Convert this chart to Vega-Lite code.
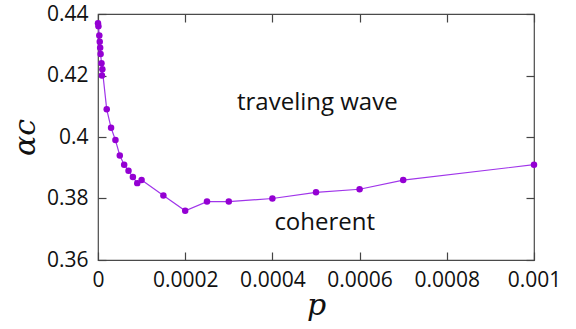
{
  "$schema": "https://vega.github.io/schema/vega-lite/v6.json",
  "width": 436,
  "height": 246,
  "padding": {"left": 98, "top": 14, "right": 42, "bottom": 69},
  "autosize": {"type": "none"},
  "background": "white",
  "config": {
    "view": {"stroke": "#4a4a4a", "strokeWidth": 1.2},
    "axis": {
      "domain": false,
      "tickColor": "#444",
      "tickWidth": 1.2,
      "tickSize": 8,
      "offset": -8,
      "grid": false,
      "labelFont": "Open Sans",
      "labelFontSize": 21,
      "labelColor": "#111",
      "labelFlush": false,
      "labelOverlap": false
    }
  },
  "datasets": {
    "curve": [
      {"p": 0, "a": 0.437},
      {"p": 0.000001, "a": 0.436},
      {"p": 0.000003, "a": 0.433},
      {"p": 0.000004, "a": 0.431},
      {"p": 0.000005, "a": 0.429},
      {"p": 0.000006, "a": 0.427},
      {"p": 0.000008, "a": 0.424},
      {"p": 0.00001, "a": 0.422},
      {"p": 0.000009, "a": 0.42},
      {"p": 0.00002, "a": 0.409},
      {"p": 0.00003, "a": 0.403},
      {"p": 0.00004, "a": 0.399},
      {"p": 0.00005, "a": 0.394},
      {"p": 0.00006, "a": 0.391},
      {"p": 0.00007, "a": 0.389},
      {"p": 0.00008, "a": 0.387},
      {"p": 0.00009, "a": 0.385},
      {"p": 0.0001, "a": 0.386},
      {"p": 0.00015, "a": 0.381},
      {"p": 0.0002, "a": 0.376},
      {"p": 0.00025, "a": 0.379},
      {"p": 0.0003, "a": 0.379},
      {"p": 0.0004, "a": 0.38},
      {"p": 0.0005, "a": 0.382},
      {"p": 0.0006, "a": 0.383},
      {"p": 0.0007, "a": 0.386},
      {"p": 0.001, "a": 0.391}
    ],
    "labels": [
      {"p": 0.000503, "a": 0.4111, "t": "traveling wave"},
      {"p": 0.00052, "a": 0.372, "t": "coherent"}
    ]
  },
  "layer": [
    {
      "data": {"name": "curve"},
      "mark": {"type": "line", "color": "#a035ea", "strokeWidth": 1.2},
      "encoding": {
        "x": {
          "field": "p", "type": "quantitative",
          "scale": {"domain": [0, 0.001], "nice": false, "zero": false},
          "axis": {
            "orient": "bottom",
            "values": [0, 0.0002, 0.0004, 0.0006, 0.0008, 0.001],
            "format": "~g",
            "labelPadding": 9,
            "title": "p",
            "titleFont": "DejaVu Serif",
            "titleFontStyle": "italic",
            "titleFontWeight": "normal",
            "titleFontSize": 30,
            "titlePadding": 0,
            "titleColor": "#111"
          }
        },
        "y": {
          "field": "a", "type": "quantitative",
          "scale": {"domain": [0.36, 0.44], "nice": false, "zero": false},
          "axis": {
            "orient": "left",
            "values": [0.36, 0.38, 0.4, 0.42, 0.44],
            "format": "~g",
            "labelPadding": 10,
            "title": "αc",
            "titleFont": "DejaVu Serif",
            "titleFontStyle": "italic",
            "titleFontWeight": "normal",
            "titleFontSize": 30,
            "titlePadding": 6,
            "titleColor": "#111"
          }
        },
        "order": {"field": "p", "type": "quantitative"}
      }
    },
    {
      "data": {"name": "curve"},
      "mark": {"type": "circle", "color": "#9400d3", "size": 42, "opacity": 1},
      "encoding": {
        "x": {
          "field": "p", "type": "quantitative",
          "axis": {"orient": "top", "values": [0, 0.0002, 0.0004, 0.0006, 0.0008, 0.001], "labels": false, "title": null}
        },
        "y": {
          "field": "a", "type": "quantitative",
          "axis": {"orient": "right", "values": [0.36, 0.38, 0.4, 0.42, 0.44], "labels": false, "title": null}
        }
      }
    },
    {
      "data": {"name": "labels"},
      "mark": {"type": "text", "font": "Open Sans", "fontSize": 24, "color": "#111", "align": "center", "baseline": "middle"},
      "encoding": {
        "x": {"field": "p", "type": "quantitative", "axis": null},
        "y": {"field": "a", "type": "quantitative", "axis": null},
        "text": {"field": "t"}
      }
    }
  ],
  "resolve": {"axis": {"x": "independent", "y": "independent"}}
}
